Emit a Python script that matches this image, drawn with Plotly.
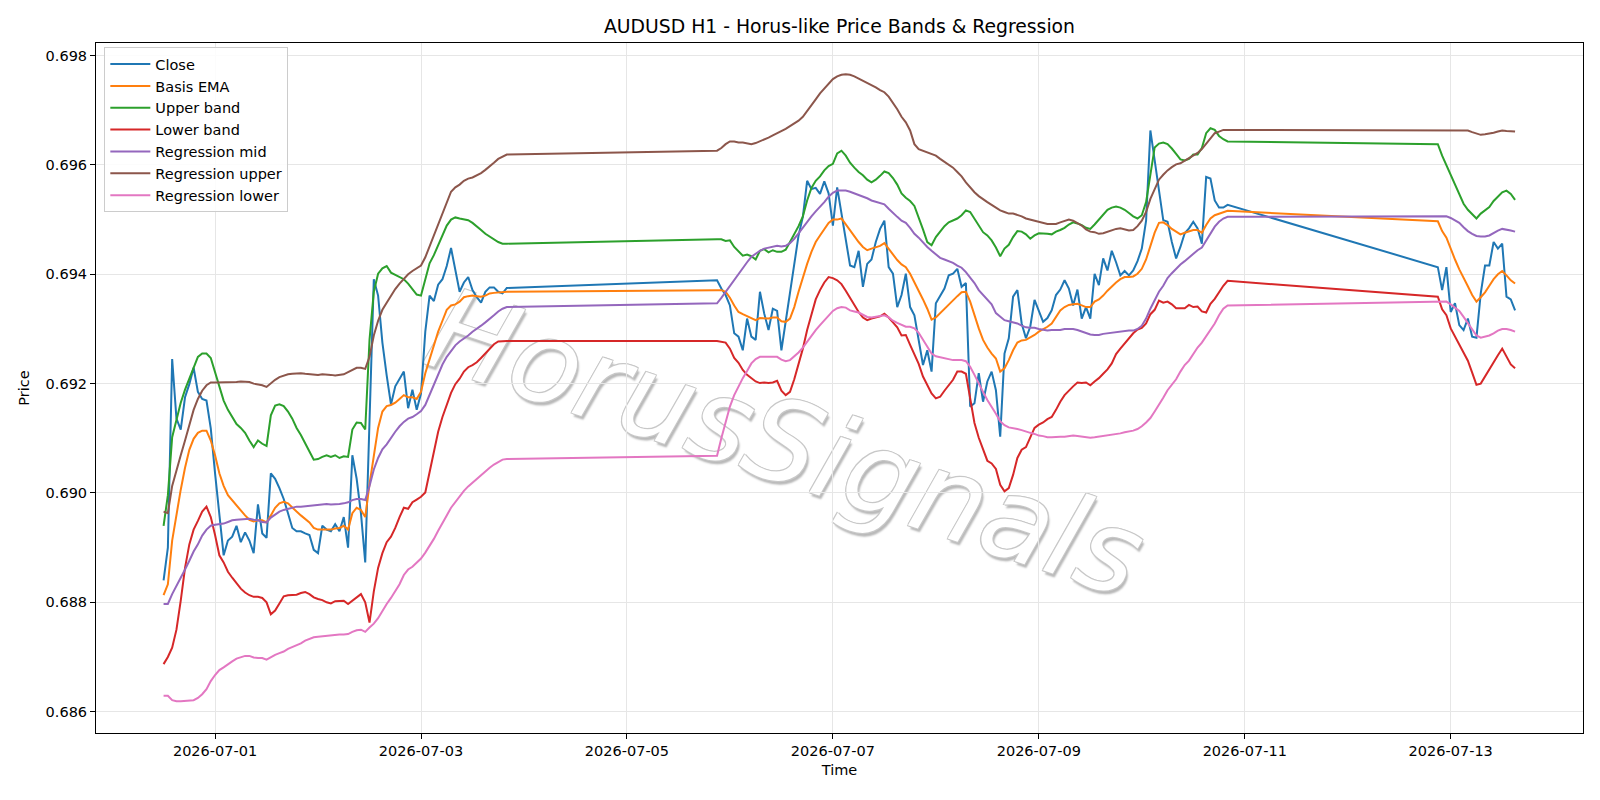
import pandas as pd
import plotly.graph_objects as go

# ---------------- data ----------------
SEGMENTS = [("2026-06-30 12:00", "2026-07-03 20:00"),
            ("2026-07-05 21:00", "2026-07-10 20:00"),
            ("2026-07-12 21:00", "2026-07-13 15:00")]

close = [
    # segment 1
    0.68840, 0.68900, 0.69245, 0.69136, 0.69116, 0.69175, 0.69199, 0.69229, 0.69185, 0.69172,
    0.69169, 0.69118, 0.69036, 0.68955, 0.68886, 0.68913, 0.68920, 0.68940, 0.68910, 0.68928,
    0.68913, 0.68890, 0.68979, 0.68926, 0.68918, 0.69036, 0.69026, 0.69009, 0.68989, 0.68963,
    0.68936, 0.68930, 0.68930, 0.68926, 0.68923, 0.68896, 0.68890, 0.68940, 0.68933, 0.68930,
    0.68943, 0.68930, 0.68956, 0.68900, 0.69069, 0.69026, 0.68963, 0.68873, 0.69120, 0.69391,
    0.69361, 0.69275, 0.69215, 0.69162, 0.69195, 0.69209, 0.69222, 0.69155, 0.69189, 0.69152,
    0.69182, 0.69295, 0.69361, 0.69351, 0.69381, 0.69391, 0.69415, 0.69448, 0.69408, 0.69368,
    0.69385, 0.69395, 0.69371, 0.69358, 0.69348, 0.69368, 0.69376, 0.69376, 0.69368, 0.69365,
    0.69375,
    # segment 2
    0.69389, 0.69374, 0.69362, 0.69343, 0.69292, 0.69286, 0.69261, 0.69319, 0.69286, 0.69280,
    0.69368, 0.69328, 0.69298, 0.69337, 0.69333, 0.69261, 0.69313, 0.69359, 0.69419, 0.69471,
    0.69505, 0.69571, 0.69556, 0.69558, 0.69547, 0.69570, 0.69548, 0.69489, 0.69559, 0.69514,
    0.69465, 0.69416, 0.69413, 0.69443, 0.69377, 0.69419, 0.69427, 0.69459, 0.69483, 0.69498,
    0.69413, 0.69401, 0.69340, 0.69362, 0.69401, 0.69340, 0.69325, 0.69280, 0.69234, 0.69261,
    0.69222, 0.69347, 0.69360, 0.69374, 0.69398, 0.69401, 0.69410, 0.69377, 0.69384, 0.69158,
    0.69164, 0.69219, 0.69167, 0.69204, 0.69222, 0.69188, 0.69103, 0.69255, 0.69283, 0.69359,
    0.69371, 0.69310, 0.69283, 0.69304, 0.69353, 0.69331, 0.69313, 0.69320, 0.69334, 0.69362,
    0.69372, 0.69389, 0.69374, 0.69343, 0.69372, 0.69319, 0.69340, 0.69319, 0.69401, 0.69380,
    0.69429, 0.69407, 0.69443, 0.69422, 0.69398, 0.69406, 0.69398, 0.69407, 0.69424, 0.69447,
    0.69498, 0.69663, 0.69608, 0.69550, 0.69499, 0.69496, 0.69459, 0.69429, 0.69450, 0.69475,
    0.69484, 0.69496, 0.69484, 0.69456, 0.69578, 0.69575, 0.69535, 0.69522, 0.69522, 0.69527,
    # segment 3
    0.69413, 0.69371, 0.69413, 0.69331, 0.69347, 0.69307, 0.69298, 0.69319, 0.69286, 0.69284,
    0.69365, 0.69416, 0.69416, 0.69459, 0.69447, 0.69456, 0.69359, 0.69354, 0.69334,
]

basis_ema = [
    0.68813, 0.68833, 0.68913, 0.68963, 0.69006, 0.69046, 0.69079, 0.69099, 0.69110, 0.69114,
    0.69114, 0.69096, 0.69069, 0.69036, 0.69013, 0.68996, 0.68986, 0.68976, 0.68968, 0.68959,
    0.68951, 0.68948, 0.68950, 0.68950, 0.68946, 0.68959, 0.68973, 0.68981, 0.68984, 0.68981,
    0.68973, 0.68966, 0.68959, 0.68953, 0.68946, 0.68936, 0.68933, 0.68933, 0.68933, 0.68933,
    0.68935, 0.68936, 0.68940, 0.68933, 0.68963, 0.68973, 0.68969, 0.68956, 0.69016, 0.69072,
    0.69119, 0.69149, 0.69159, 0.69161, 0.69165, 0.69172, 0.69179, 0.69175, 0.69175, 0.69172,
    0.69185, 0.69219, 0.69245, 0.69268, 0.69295, 0.69315, 0.69335, 0.69343, 0.69345, 0.69350,
    0.69358, 0.69360, 0.69361, 0.69360, 0.69359, 0.69361, 0.69365, 0.69366, 0.69367, 0.69368,
    0.69368,
    0.69371, 0.69371, 0.69368, 0.69357, 0.69343, 0.69331, 0.69327, 0.69323, 0.69319, 0.69316,
    0.69320, 0.69319, 0.69319, 0.69321, 0.69321, 0.69314, 0.69313, 0.69319, 0.69340, 0.69368,
    0.69395, 0.69419, 0.69441, 0.69459, 0.69471, 0.69483, 0.69494, 0.69500, 0.69500, 0.69502,
    0.69491, 0.69479, 0.69468, 0.69459, 0.69450, 0.69444, 0.69447, 0.69450, 0.69452, 0.69457,
    0.69447, 0.69435, 0.69426, 0.69418, 0.69413, 0.69401, 0.69386, 0.69371, 0.69354, 0.69337,
    0.69317, 0.69321, 0.69329, 0.69337, 0.69345, 0.69353, 0.69360, 0.69367, 0.69368, 0.69350,
    0.69325, 0.69301, 0.69280, 0.69266, 0.69255, 0.69246, 0.69222, 0.69228, 0.69243, 0.69261,
    0.69275, 0.69279, 0.69280, 0.69284, 0.69289, 0.69295, 0.69299, 0.69304, 0.69310, 0.69323,
    0.69334, 0.69340, 0.69344, 0.69345, 0.69346, 0.69343, 0.69340, 0.69340, 0.69350, 0.69354,
    0.69361, 0.69370, 0.69378, 0.69385, 0.69391, 0.69395, 0.69395, 0.69396, 0.69401, 0.69410,
    0.69427, 0.69450, 0.69476, 0.69494, 0.69495, 0.69490, 0.69483, 0.69478, 0.69473, 0.69476,
    0.69479, 0.69481, 0.69481, 0.69476, 0.69490, 0.69502, 0.69508, 0.69511, 0.69513, 0.69516,
    0.69497, 0.69479, 0.69467, 0.69445, 0.69427, 0.69409, 0.69392, 0.69378, 0.69362, 0.69350,
    0.69358, 0.69367, 0.69379, 0.69391, 0.69400, 0.69406, 0.69398, 0.69389, 0.69383,
]

upper_band = [
    0.68940, 0.68996, 0.69102, 0.69136, 0.69165, 0.69189, 0.69209, 0.69232, 0.69249, 0.69255,
    0.69255, 0.69247, 0.69222, 0.69195, 0.69169, 0.69152, 0.69139, 0.69126, 0.69119, 0.69110,
    0.69096, 0.69084, 0.69096, 0.69090, 0.69086, 0.69142, 0.69160, 0.69162, 0.69159, 0.69149,
    0.69136, 0.69119, 0.69106, 0.69092, 0.69076, 0.69061, 0.69062, 0.69066, 0.69069, 0.69066,
    0.69069, 0.69064, 0.69067, 0.69066, 0.69116, 0.69129, 0.69128, 0.69116, 0.69280, 0.69368,
    0.69401, 0.69411, 0.69415, 0.69403, 0.69399, 0.69396, 0.69391, 0.69383, 0.69372, 0.69363,
    0.69361, 0.69391, 0.69420, 0.69435, 0.69453, 0.69473, 0.69489, 0.69500, 0.69504, 0.69502,
    0.69501, 0.69499, 0.69494, 0.69488, 0.69481, 0.69474, 0.69469, 0.69464, 0.69459, 0.69456,
    0.69456,
    0.69464, 0.69464, 0.69461, 0.69462, 0.69450, 0.69441, 0.69434, 0.69436, 0.69433, 0.69427,
    0.69443, 0.69446, 0.69440, 0.69444, 0.69441, 0.69441, 0.69445, 0.69459, 0.69473, 0.69488,
    0.69506, 0.69535, 0.69558, 0.69571, 0.69579, 0.69590, 0.69598, 0.69602, 0.69621, 0.69626,
    0.69617, 0.69604, 0.69595, 0.69587, 0.69581, 0.69573, 0.69568, 0.69573, 0.69580, 0.69588,
    0.69585, 0.69576, 0.69564, 0.69548, 0.69540, 0.69534, 0.69525, 0.69505, 0.69482, 0.69459,
    0.69453, 0.69468, 0.69479, 0.69488, 0.69495, 0.69498, 0.69502, 0.69508, 0.69517, 0.69514,
    0.69502, 0.69490, 0.69477, 0.69471, 0.69462, 0.69449, 0.69433, 0.69447, 0.69454, 0.69468,
    0.69479, 0.69478, 0.69473, 0.69465, 0.69471, 0.69475, 0.69475, 0.69474, 0.69473, 0.69478,
    0.69481, 0.69485, 0.69491, 0.69495, 0.69493, 0.69490, 0.69485, 0.69483, 0.69491, 0.69500,
    0.69509, 0.69518, 0.69522, 0.69524, 0.69522, 0.69518, 0.69512, 0.69506, 0.69502, 0.69508,
    0.69532, 0.69581, 0.69632, 0.69639, 0.69641, 0.69638, 0.69630, 0.69620, 0.69610, 0.69608,
    0.69611, 0.69619, 0.69619, 0.69631, 0.69658, 0.69667, 0.69664, 0.69653, 0.69647, 0.69643,
    0.69638, 0.69617, 0.69599, 0.69581, 0.69565, 0.69544, 0.69529, 0.69518, 0.69509, 0.69502,
    0.69511, 0.69517, 0.69523, 0.69534, 0.69543, 0.69550, 0.69553, 0.69547, 0.69536,
]

lower_band = [
    0.68687, 0.68700, 0.68717, 0.68750, 0.68803, 0.68863, 0.68906, 0.68933, 0.68949, 0.68966,
    0.68975, 0.68956, 0.68923, 0.68886, 0.68873, 0.68856, 0.68845, 0.68835, 0.68825, 0.68818,
    0.68813, 0.68810, 0.68810, 0.68808, 0.68800, 0.68778, 0.68785, 0.68798, 0.68811, 0.68813,
    0.68813, 0.68814, 0.68817, 0.68819, 0.68815, 0.68809, 0.68806, 0.68804, 0.68800, 0.68798,
    0.68802, 0.68803, 0.68803, 0.68797, 0.68803, 0.68810, 0.68815, 0.68800, 0.68763, 0.68820,
    0.68863, 0.68890, 0.68910, 0.68920, 0.68936, 0.68956, 0.68973, 0.68971, 0.68983, 0.68988,
    0.68993, 0.69001, 0.69039, 0.69079, 0.69112, 0.69139, 0.69162, 0.69183, 0.69199, 0.69209,
    0.69222, 0.69230, 0.69234, 0.69239, 0.69247, 0.69256, 0.69265, 0.69272, 0.69277, 0.69278,
    0.69278,
    0.69278, 0.69277, 0.69275, 0.69264, 0.69247, 0.69238, 0.69225, 0.69216, 0.69210, 0.69204,
    0.69201, 0.69202, 0.69201, 0.69202, 0.69205, 0.69187, 0.69179, 0.69185, 0.69208, 0.69235,
    0.69264, 0.69298, 0.69328, 0.69354, 0.69371, 0.69385, 0.69395, 0.69393, 0.69389, 0.69382,
    0.69370, 0.69357, 0.69343, 0.69331, 0.69321, 0.69316, 0.69319, 0.69321, 0.69323, 0.69328,
    0.69321, 0.69312, 0.69303, 0.69288, 0.69289, 0.69271, 0.69252, 0.69236, 0.69213, 0.69198,
    0.69182, 0.69173, 0.69176, 0.69187, 0.69198, 0.69207, 0.69222, 0.69222, 0.69218, 0.69170,
    0.69128, 0.69101, 0.69079, 0.69059, 0.69054, 0.69044, 0.69015, 0.69003, 0.69009, 0.69033,
    0.69064, 0.69079, 0.69084, 0.69103, 0.69119, 0.69125, 0.69129, 0.69135, 0.69139, 0.69152,
    0.69167, 0.69179, 0.69188, 0.69195, 0.69202, 0.69201, 0.69202, 0.69197, 0.69204, 0.69210,
    0.69218, 0.69226, 0.69237, 0.69254, 0.69264, 0.69274, 0.69283, 0.69292, 0.69299, 0.69302,
    0.69310, 0.69327, 0.69335, 0.69352, 0.69348, 0.69350, 0.69345, 0.69338, 0.69338, 0.69338,
    0.69344, 0.69340, 0.69341, 0.69332, 0.69330, 0.69346, 0.69355, 0.69367, 0.69379, 0.69388,
    0.69359, 0.69336, 0.69325, 0.69301, 0.69286, 0.69271, 0.69255, 0.69242, 0.69220, 0.69198,
    0.69200, 0.69213, 0.69228, 0.69240, 0.69252, 0.69264, 0.69249, 0.69235, 0.69228,
]

reg_mid = [
    0.68797, 0.68797, 0.68815, 0.68830, 0.68843, 0.68860, 0.68876, 0.68893, 0.68906, 0.68922,
    0.68933, 0.68940, 0.68942, 0.68943, 0.68944, 0.68947, 0.68950, 0.68951, 0.68952, 0.68953,
    0.68953, 0.68951, 0.68950, 0.68947, 0.68946, 0.68955, 0.68961, 0.68966, 0.68969, 0.68971,
    0.68973, 0.68975, 0.68975, 0.68976, 0.68977, 0.68978, 0.68979, 0.68979, 0.68980, 0.68979,
    0.68979, 0.68980, 0.68981, 0.68983, 0.68987, 0.68989, 0.68989, 0.68987, 0.69013, 0.69043,
    0.69064, 0.69080, 0.69089, 0.69101, 0.69112, 0.69122, 0.69130, 0.69136, 0.69139, 0.69144,
    0.69150, 0.69161, 0.69179, 0.69199, 0.69217, 0.69235, 0.69249, 0.69260, 0.69270, 0.69277,
    0.69282, 0.69288, 0.69295, 0.69300, 0.69306, 0.69312, 0.69318, 0.69325, 0.69332, 0.69337,
    0.69340,
    0.69347, 0.69357, 0.69368, 0.69380, 0.69391, 0.69401, 0.69412, 0.69422, 0.69432, 0.69438,
    0.69443, 0.69447, 0.69449, 0.69451, 0.69452, 0.69451, 0.69452, 0.69457, 0.69465, 0.69475,
    0.69486, 0.69495, 0.69506, 0.69515, 0.69523, 0.69532, 0.69542, 0.69549, 0.69553, 0.69553,
    0.69553, 0.69551, 0.69548, 0.69546, 0.69542, 0.69539, 0.69535, 0.69533, 0.69530, 0.69528,
    0.69520, 0.69512, 0.69505, 0.69498, 0.69494, 0.69485, 0.69474, 0.69467, 0.69458, 0.69450,
    0.69443, 0.69437, 0.69430, 0.69427, 0.69424, 0.69421, 0.69416, 0.69412, 0.69404, 0.69395,
    0.69384, 0.69371, 0.69362, 0.69353, 0.69345, 0.69329, 0.69322, 0.69316, 0.69314, 0.69312,
    0.69310, 0.69306, 0.69303, 0.69302, 0.69302, 0.69300, 0.69298, 0.69297, 0.69298, 0.69298,
    0.69298, 0.69300, 0.69300, 0.69300, 0.69298, 0.69295, 0.69292, 0.69290, 0.69289, 0.69289,
    0.69291, 0.69292, 0.69294, 0.69295, 0.69296, 0.69297, 0.69297, 0.69297, 0.69300, 0.69306,
    0.69319, 0.69337, 0.69352, 0.69368, 0.69379, 0.69393, 0.69402, 0.69411, 0.69418, 0.69424,
    0.69431, 0.69438, 0.69444, 0.69449, 0.69461, 0.69475, 0.69487, 0.69496, 0.69502, 0.69505,
    0.69506, 0.69506, 0.69506, 0.69503, 0.69498, 0.69494, 0.69486, 0.69479, 0.69474, 0.69470,
    0.69469, 0.69469, 0.69471, 0.69476, 0.69480, 0.69483, 0.69482, 0.69480, 0.69478,
]

reg_upper = [
    0.68966, 0.68963, 0.69013, 0.69043, 0.69069, 0.69096, 0.69126, 0.69152, 0.69172, 0.69187,
    0.69197, 0.69202, 0.69202, 0.69202, 0.69202, 0.69203, 0.69203, 0.69203, 0.69204, 0.69204,
    0.69203, 0.69200, 0.69199, 0.69197, 0.69194, 0.69201, 0.69207, 0.69212, 0.69215, 0.69217,
    0.69218, 0.69219, 0.69219, 0.69218, 0.69217, 0.69216, 0.69216, 0.69217, 0.69217, 0.69216,
    0.69215, 0.69216, 0.69217, 0.69221, 0.69225, 0.69229, 0.69229, 0.69227, 0.69249, 0.69288,
    0.69315, 0.69335, 0.69348, 0.69361, 0.69373, 0.69383, 0.69391, 0.69400, 0.69406, 0.69411,
    0.69416, 0.69431, 0.69451, 0.69473, 0.69494, 0.69514, 0.69534, 0.69551, 0.69559, 0.69564,
    0.69571, 0.69575, 0.69577, 0.69581, 0.69585, 0.69591, 0.69597, 0.69604, 0.69611, 0.69615,
    0.69619,
    0.69626, 0.69631, 0.69638, 0.69643, 0.69643, 0.69641, 0.69641, 0.69640, 0.69638, 0.69640,
    0.69643, 0.69647, 0.69650, 0.69654, 0.69658, 0.69661, 0.69666, 0.69671, 0.69676, 0.69681,
    0.69688, 0.69698, 0.69710, 0.69720, 0.69731, 0.69740, 0.69750, 0.69757, 0.69762, 0.69765,
    0.69766, 0.69765, 0.69762, 0.69758, 0.69755, 0.69751, 0.69747, 0.69742, 0.69737, 0.69733,
    0.69725, 0.69714, 0.69702, 0.69688, 0.69678, 0.69663, 0.69638, 0.69629, 0.69626, 0.69624,
    0.69620, 0.69617, 0.69611, 0.69606, 0.69601, 0.69595, 0.69587, 0.69579, 0.69568, 0.69558,
    0.69550, 0.69543, 0.69537, 0.69532, 0.69527, 0.69522, 0.69517, 0.69514, 0.69511, 0.69511,
    0.69509, 0.69506, 0.69502, 0.69500, 0.69497, 0.69495, 0.69494, 0.69492, 0.69492, 0.69492,
    0.69495, 0.69498, 0.69500, 0.69498, 0.69494, 0.69489, 0.69482, 0.69478, 0.69477, 0.69474,
    0.69475, 0.69478, 0.69481, 0.69483, 0.69484, 0.69482, 0.69480, 0.69481, 0.69488, 0.69498,
    0.69514, 0.69538, 0.69556, 0.69573, 0.69582, 0.69590, 0.69596, 0.69601, 0.69603, 0.69608,
    0.69612, 0.69618, 0.69622, 0.69629, 0.69639, 0.69650, 0.69658, 0.69661, 0.69664, 0.69664,
    0.69664, 0.69664, 0.69664, 0.69664, 0.69664, 0.69664, 0.69664, 0.69663, 0.69660, 0.69657,
    0.69655, 0.69656, 0.69657, 0.69659, 0.69661, 0.69663, 0.69662, 0.69662, 0.69661,
]

reg_lower = [
    0.68629, 0.68629, 0.68621, 0.68619, 0.68619, 0.68620, 0.68621, 0.68621, 0.68625, 0.68632,
    0.68641, 0.68656, 0.68667, 0.68676, 0.68681, 0.68687, 0.68692, 0.68697, 0.68700, 0.68702,
    0.68702, 0.68699, 0.68698, 0.68698, 0.68695, 0.68700, 0.68704, 0.68707, 0.68710, 0.68715,
    0.68718, 0.68721, 0.68725, 0.68730, 0.68733, 0.68736, 0.68737, 0.68738, 0.68739, 0.68740,
    0.68740, 0.68741, 0.68741, 0.68742, 0.68746, 0.68749, 0.68750, 0.68746, 0.68754, 0.68761,
    0.68771, 0.68785, 0.68797, 0.68808, 0.68821, 0.68833, 0.68850, 0.68860, 0.68865, 0.68873,
    0.68880, 0.68891, 0.68903, 0.68916, 0.68931, 0.68944, 0.68959, 0.68973, 0.68984, 0.68995,
    0.69004, 0.69012, 0.69019, 0.69026, 0.69033, 0.69039, 0.69046, 0.69052, 0.69057, 0.69061,
    0.69062,
    0.69068, 0.69100, 0.69131, 0.69158, 0.69179, 0.69195, 0.69210, 0.69223, 0.69237, 0.69245,
    0.69249, 0.69249, 0.69249, 0.69249, 0.69249, 0.69244, 0.69241, 0.69243, 0.69250, 0.69257,
    0.69266, 0.69277, 0.69287, 0.69298, 0.69307, 0.69316, 0.69325, 0.69333, 0.69338, 0.69340,
    0.69339, 0.69334, 0.69332, 0.69330, 0.69326, 0.69322, 0.69321, 0.69322, 0.69323, 0.69325,
    0.69321, 0.69315, 0.69311, 0.69307, 0.69304, 0.69304, 0.69301, 0.69293, 0.69280, 0.69266,
    0.69255, 0.69250, 0.69248, 0.69246, 0.69244, 0.69243, 0.69243, 0.69243, 0.69241, 0.69231,
    0.69216, 0.69199, 0.69185, 0.69170, 0.69158, 0.69145, 0.69131, 0.69124, 0.69120, 0.69119,
    0.69117, 0.69115, 0.69112, 0.69110, 0.69108, 0.69105, 0.69104, 0.69102, 0.69102, 0.69103,
    0.69103, 0.69103, 0.69104, 0.69105, 0.69104, 0.69103, 0.69102, 0.69101, 0.69102, 0.69103,
    0.69104, 0.69105, 0.69107, 0.69108, 0.69109, 0.69111, 0.69112, 0.69114, 0.69117, 0.69122,
    0.69129, 0.69137, 0.69149, 0.69161, 0.69174, 0.69188, 0.69199, 0.69208, 0.69222, 0.69234,
    0.69242, 0.69255, 0.69266, 0.69275, 0.69287, 0.69299, 0.69310, 0.69325, 0.69337, 0.69343,
    0.69350, 0.69350, 0.69350, 0.69345, 0.69339, 0.69333, 0.69322, 0.69311, 0.69298, 0.69288,
    0.69284, 0.69286, 0.69288, 0.69292, 0.69297, 0.69300, 0.69300, 0.69298, 0.69295,
]

x_tick_labels = ["2026-07-01", "2026-07-03", "2026-07-05", "2026-07-07",
                 "2026-07-09", "2026-07-11", "2026-07-13"]
y_tick_values = [0.686, 0.688, 0.690, 0.692, 0.694, 0.696, 0.698]

# ---------------- build ----------------
times = []
for start, end in SEGMENTS:
    times.extend(pd.date_range(start, end, freq="h"))
x = [t.strftime("%Y-%m-%d %H:%M") for t in times]

series = [
    ("Close", close, "#1f77b4"),
    ("Basis EMA", basis_ema, "#ff7f0e"),
    ("Upper band", upper_band, "#2ca02c"),
    ("Lower band", lower_band, "#d62728"),
    ("Regression mid", reg_mid, "#9467bd"),
    ("Regression upper", reg_upper, "#8c564b"),
    ("Regression lower", reg_lower, "#e377c2"),
]
for name, vals, _ in series:
    assert len(vals) == len(x), f"{name}: {len(vals)} vs {len(x)}"

fig = go.Figure()
for name, vals, color in series:
    fig.add_trace(go.Scatter(x=x, y=vals, mode="lines", name=name,
                             line=dict(color=color, width=2)))

# plot area in pixels
L, R, T, B = 96, 1583, 43, 733
W, H = R - L, B - T

def px(xp):
    return (xp - L) / W

def py(yp):
    return (B - yp) / H

# watermark
fig.add_shape(type="line", xref="paper", yref="paper",
              x0=px(588), y0=py(369), x1=px(988), y1=py(501),
              line=dict(width=0, color="rgba(0,0,0,0)"), layer="between",
              label=dict(text="HorusSignals", textposition="middle",
                         xanchor="center", yanchor="middle", textangle=18.5,
                         font=dict(family="DejaVu Sans", size=114, color="white",
                                   style="italic",
                                   shadow="-1px -1px 0 #c8c8c8, 1px -1px 0 #c8c8c8, "
                                          "-1px 1px 0 #c8c8c8, 1px 1px 0 #c8c8c8, "
                                          "3px 3px 2px #b8b8b8")))

fig.update_layout(
    width=1600, height=800,
    margin=dict(l=L, r=1600 - R, t=T, b=800 - B, autoexpand=False),
    paper_bgcolor="white", plot_bgcolor="white",
    font=dict(family="DejaVu Sans", size=14.5, color="black"),
    title=dict(text="AUDUSD H1 - Horus-like Price Bands & Regression",
               x=(L + R) / 2 / 1600, xanchor="center",
               yref="container", y=1 - 26 / 800, yanchor="middle",
               font=dict(size=18.8, color="black")),
    showlegend=True,
    legend=dict(x=0.0056, y=0.994, xanchor="left", yanchor="top",
                bgcolor="rgba(255,255,255,0.85)", bordercolor="#cccccc",
                borderwidth=1, font=dict(size=14.5), itemwidth=40),
)
fig.update_xaxes(
    type="date", range=["2026-06-29 20:15", "2026-07-14 06:50"],
    tickmode="array", tickvals=x_tick_labels, ticktext=x_tick_labels,
    showgrid=True, gridcolor="#e6e6e6", gridwidth=1,
    ticks="outside", ticklen=5, tickwidth=1, tickcolor="black",
    showline=True, linecolor="black", linewidth=1, mirror=True,
    zeroline=False, tickfont=dict(size=14.5),
    title=dict(text="Time", font=dict(size=14.5), standoff=6),
)
fig.update_yaxes(
    range=[0.68561, 0.69823],
    tickmode="array", tickvals=y_tick_values,
    ticktext=[f"{v:.3f}" for v in y_tick_values],
    showgrid=True, gridcolor="#e6e6e6", gridwidth=1,
    ticks="outside", ticklen=5, tickwidth=1, tickcolor="black",
    showline=True, linecolor="black", linewidth=1, mirror=True,
    zeroline=False, tickfont=dict(size=14.5),
    title=dict(text="Price", font=dict(size=14.5), standoff=12),
)

fig.write_html("out.html")
